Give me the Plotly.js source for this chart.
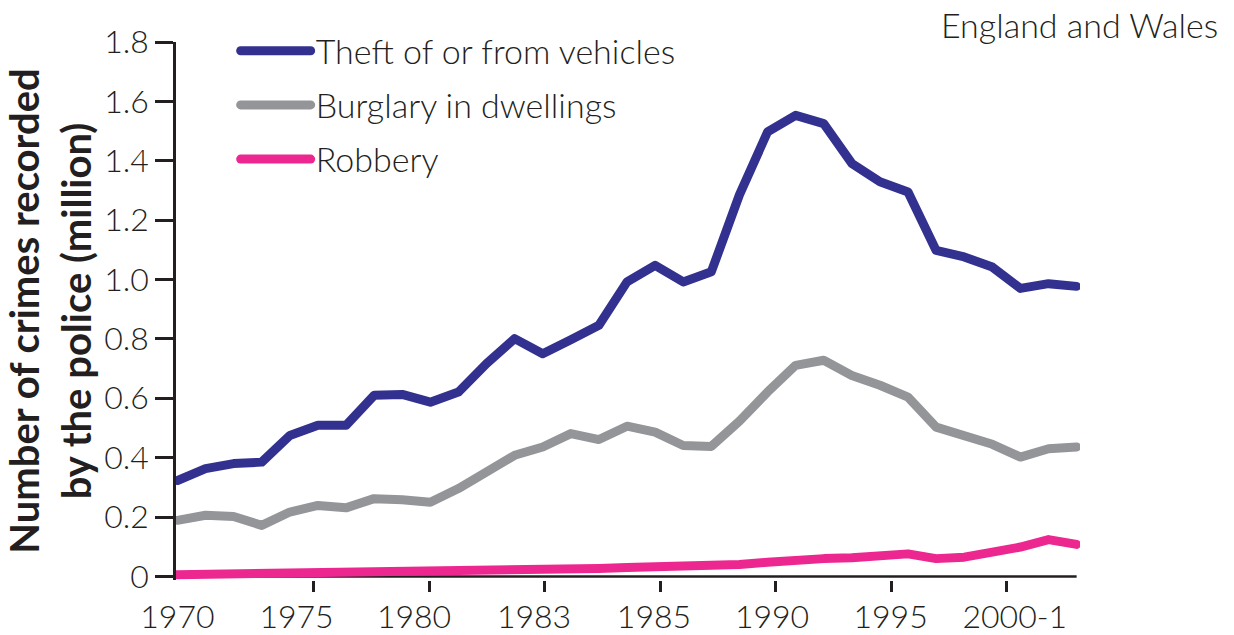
<!DOCTYPE html>
<html><head><meta charset="utf-8">
<script src="https://cdn.plot.ly/plotly-3.0.1.min.js"></script>
<style>
html,body{margin:0;padding:0;background:#fff;}
#chart{width:1234px;height:635px;}
.scatterlayer .js-line, .legendlines path{stroke-linecap:round !important;stroke-linejoin:round !important;}
</style></head><body><div id="chart"></div>
<script>
const periods = ['1970','1971','1972','1973','1974','1975','1976','1977','1978','1979',
  '1980','1981','1982','1983','1984','1985','1986','1987','1988','1989',
  '1990','1991','1992','1993','1994','1995','1996',
  '1997/98','1998/99','1999/00','2000/01','2001/02','2002/03'];
const theftVehicles = [0.323,0.363,0.380,0.385,0.475,0.509,0.509,0.610,0.613,0.587,
  0.621,0.717,0.801,0.750,0.797,0.846,0.992,1.048,0.992,1.026,
  1.285,1.497,1.553,1.525,1.391,1.329,1.295,1.098,1.076,1.042,0.970,0.986,0.977];
const burglaryDwellings = [0.189,0.206,0.202,0.172,0.217,0.239,0.231,0.262,0.258,0.250,
  0.296,0.352,0.408,0.436,0.481,0.461,0.506,0.486,0.441,0.438,
  0.523,0.621,0.711,0.728,0.677,0.644,0.604,0.503,0.475,0.445,0.402,0.430,0.436];
const robbery = [0.006,0.007,0.008,0.008,0.009,0.011,0.011,0.013,0.014,0.014,
  0.015,0.020,0.023,0.022,0.025,0.027,0.030,0.031,0.031,0.034,
  0.040,0.048,0.056,0.060,0.063,0.071,0.076,0.060,0.065,0.082,0.099,0.124,0.108];
const seriesNames = ['Theft of or from vehicles','Burglary in dwellings','Robbery'];
const xTickLabels = ['1970','1975','1980','1983','1985','1990','1995','2000-1'];
const yTickValues = [0,0.2,0.4,0.6,0.8,1.0,1.2,1.4,1.6,1.8];
const yTickLabels = ['0','0.2','0.4','0.6','0.8','1.0','1.2','1.4','1.6','1.8'];

// axis layout (positions on the period index scale, as drawn in the original)
const labelPositions = [0,4.24,8.42,12.69,16.96,21.16,25.38,29.8];
const tickPositions = [4.86,8.96,13.08,17.2,21.29,25.42,29.51];
const colors = ['#33318f','#939598','#ec2890'];
const ink = '#231f20';
const fam = 'Lato, "Open Sans", sans-serif';
const tickFont = {family:fam, size:32, color:ink, weight:300};
const textFont = {family:fam, size:34, color:ink, weight:300};

const idx = periods.map((p,i)=>i);
const seriesValues = [theftVehicles, burglaryDwellings, robbery];
const seriesAxes = ['x','x','x2'];
const traces = seriesValues.map((vals,k)=>({
  type:'scatter', mode:'lines', x:idx, y:vals, name:seriesNames[k],
  xaxis:seriesAxes[k], yaxis:'y',
  legendgroup:'g'+k, customdata:periods,
  hovertemplate:'%{customdata}: %{y:.3f}m<extra>'+seriesNames[k]+'</extra>',
  line:{color:colors[k], width:9}
}));

const xRange = [-0.05, 32.12];
const layout = {
  width:1234, height:635,
  margin:{l:176, r:154, t:42, b:55},
  paper_bgcolor:'#fff', plot_bgcolor:'#fff',
  showlegend:true,
  legend:{x:0.066, y:1.037, xanchor:'left', yanchor:'top', font:textFont,
    itemwidth:70, tracegroupgap:7, bgcolor:'rgba(0,0,0,0)', traceorder:'grouped'},
  xaxis:{range:xRange, showgrid:false, zeroline:false, showline:false,
    tickmode:'array', tickvals:tickPositions, showticklabels:false,
    ticks:'outside', ticklen:11, tickwidth:2.5, tickcolor:ink},
  xaxis2:{range:xRange, overlaying:'x', anchor:'y', side:'bottom',
    showgrid:false, zeroline:false, showline:false, ticks:'',
    tickmode:'array', tickvals:labelPositions, ticktext:xTickLabels,
    tickfont:tickFont, ticklabelstandoff:15},
  yaxis:{range:[-0.012,1.8], showgrid:false, zeroline:false,
    showline:true, linecolor:ink, linewidth:2.5, layer:'below traces',
    tickmode:'array', tickvals:yTickValues, ticktext:yTickLabels,
    ticks:'outside', ticklen:18, tickwidth:2.5, tickcolor:ink,
    tickfont:tickFont,
    title:{text:'Number of crimes recorded<br>by the police (million)',
      font:{family:fam, size:40, color:ink, weight:700},
      standoff:8}},
  shapes:[{type:'line', xref:'x', yref:'y', x0:xRange[0], x1:32, y0:0, y1:0,
    layer:'below', line:{color:ink, width:2.5}}],
  annotations:[{text:'England and Wales', xref:'paper', yref:'paper',
    x:1.1545, y:1.033, xanchor:'right', yanchor:'middle', showarrow:false,
    font:textFont}]
};
Plotly.newPlot('chart', traces, layout, {displayModeBar:false, responsive:false});
</script></body></html>
